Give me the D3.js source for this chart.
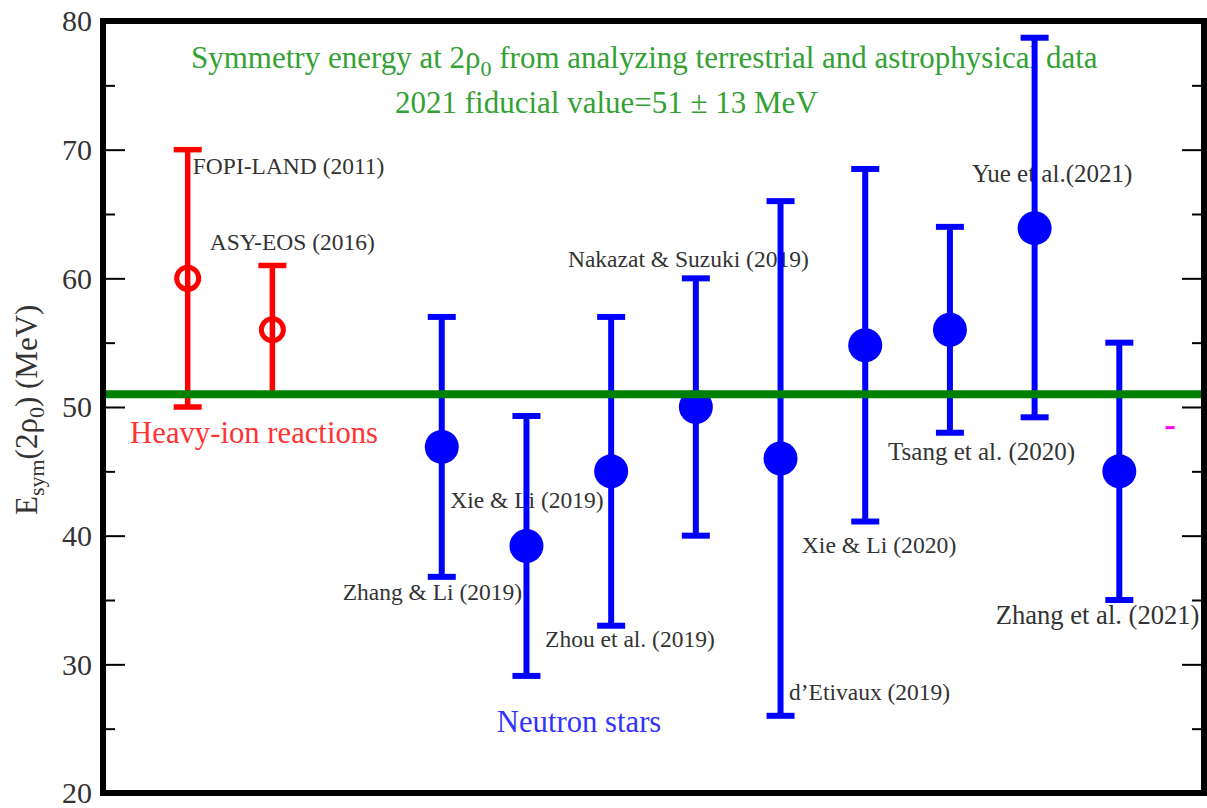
<!DOCTYPE html>
<html>
<head>
<meta charset="utf-8">
<script src="https://cdn.jsdelivr.net/npm/d3@7"></script>
<style>
  body { margin: 0; background: #fff; }
  svg text { font-family: "Liberation Serif", "Times New Roman", serif; }
</style>
</head>
<body>
<svg id="chart" width="1207" height="808"></svg>
<script>
// data
const names = ["FOPI-LAND (2011)", "ASY-EOS (2016)", "Zhang & Li (2019)", "Xie & Li (2019)",
  "Zhou et al. (2019)", "Nakazat & Suzuki (2019)", "d\u2019Etivaux (2019)", "Xie & Li (2020)",
  "Tsang et al. (2020)", "Yue et al.(2021)", "Zhang et al. (2021)"];
const slots = [1, 2, 4, 5, 6, 7, 8, 9, 10, 11, 12];
const esym = [60, 56, 46.9, 39.2, 45, 50, 46, 54.8, 56, 63.9, 45];
const errLow = [50, 51, 36.8, 29.1, 33, 40, 26, 41.1, 48, 49.2, 35];
const errHigh = [70, 61, 57, 49.3, 57, 60, 66, 68.5, 64, 78.7, 55];
const source = ["hic", "hic", "ns", "ns", "ns", "ns", "ns", "ns", "ns", "ns", "ns"];
const fiducial = 51;
const extraMark = [12.6, 48.4]; // small magenta dash
const yTicks = [20, 30, 40, 50, 60, 70, 80];
const yMinor = [25, 35, 45, 55, 65, 75];

// where each name label sits (slot, value of baseline) and its size
const labelAt = [[1.06, 68.1], [1.26, 62.2], [2.83, 35.0], [4.10, 42.15], [5.22, 31.35], [5.49, 60.9],
  [8.10, 27.2], [8.25, 38.65], [9.27, 45.9], [10.26, 67.5], [10.54, 33.1]];
const labelSize = [23.5, 23.5, 23.5, 23.5, 23.5, 23.5, 23.5, 23.7, 25, 25, 26.6];

const svg = d3.select('#chart');
const frameL = 103, frameR = 1204, frameT = 21, frameB = 793;

const x = d3.scaleLinear().domain([0, 13]).range([frameL, frameR]);
const y = d3.scaleLinear().domain([20, 80]).range([frameB, frameT]);

const color = { hic: '#ff0000', ns: '#0000ff' };

// text first: the error bars are drawn over it
const title = svg.append('g').attr('fill', '#33a133').style('font-size', '31px');
const t1 = title.append('text').attr('x', 191).attr('y', 68);
t1.append('tspan').text('Symmetry energy at 2\u03c1');
t1.append('tspan').attr('dy', 8).style('font-size', '22px').text('0');
t1.append('tspan').attr('dy', -8).text(' from analyzing terrestrial and astrophysical data');
title.append('text').attr('x', 395).attr('y', 113).text('2021 fiducial value=51 \u00b1 13 MeV');

svg.append('g').selectAll('text')
  .data(names)
  .enter().append('text')
  .attr('x', (d, i) => x(labelAt[i][0]))
  .attr('y', (d, i) => y(labelAt[i][1]))
  .attr('fill', '#333')
  .style('font-size', (d, i) => labelSize[i] + 'px')
  .text(d => d);

svg.append('text').attr('x', x(0.32)).attr('y', y(47.2))
  .attr('fill', '#ff3333').style('font-size', '30.7px').text('Heavy-ion reactions');
svg.append('text').attr('x', x(4.65)).attr('y', y(24.75))
  .attr('fill', '#3333ff').style('font-size', '30.7px').text('Neutron stars');

// error bars
const bars = svg.append('g');
slots.forEach((s, i) => {
  const c = color[source[i]];
  const w = source[i] === 'hic' ? 5.5 : 6;
  const g = bars.append('g').attr('stroke', c).attr('stroke-width', w);
  g.append('line').attr('x1', x(s)).attr('x2', x(s)).attr('y1', y(errLow[i])).attr('y2', y(errHigh[i]));
  [errLow[i], errHigh[i]].forEach(v => {
    g.append('line').attr('x1', x(s) - 14).attr('x2', x(s) + 14).attr('y1', y(v)).attr('y2', y(v));
  });
  if (source[i] === 'hic') {
    bars.append('circle').attr('cx', x(s)).attr('cy', y(esym[i])).attr('r', 11)
      .attr('fill', 'none').attr('stroke', c).attr('stroke-width', 5);
  } else {
    bars.append('circle').attr('cx', x(s)).attr('cy', y(esym[i])).attr('r', 17).attr('fill', c);
  }
});

svg.append('line')
  .attr('x1', x(extraMark[0]) - 4.5).attr('x2', x(extraMark[0]) + 4.5)
  .attr('y1', y(extraMark[1])).attr('y2', y(extraMark[1]))
  .attr('stroke', '#ff00ff').attr('stroke-width', 3);

// fiducial line
svg.append('line')
  .attr('x1', frameL).attr('x2', frameR)
  .attr('y1', y(fiducial)).attr('y2', y(fiducial))
  .attr('stroke', '#008000').attr('stroke-width', 8);

// ticks, both sides pointing inward
const axL = svg.append('g').attr('transform', `translate(${frameL},0)`)
  .call(d3.axisRight(y).tickValues(yTicks).tickSize(22).tickFormat(''));
const axLm = svg.append('g').attr('transform', `translate(${frameL},0)`)
  .call(d3.axisRight(y).tickValues(yMinor).tickSize(12).tickFormat(''));
const axR = svg.append('g').attr('transform', `translate(${frameR},0)`)
  .call(d3.axisLeft(y).tickValues(yTicks).tickSize(22).tickFormat(''));
const axRm = svg.append('g').attr('transform', `translate(${frameR},0)`)
  .call(d3.axisLeft(y).tickValues(yMinor).tickSize(12).tickFormat(''));
[axL, axLm, axR, axRm].forEach(a => {
  a.select('.domain').remove();
  a.selectAll('line').attr('stroke', '#000').attr('stroke-width', 2);
});

svg.append('g').selectAll('text')
  .data(yTicks)
  .enter().append('text')
  .attr('x', 92)
  .attr('y', d => y(d))
  .attr('dy', '0.34em')
  .attr('text-anchor', 'end')
  .attr('fill', '#333')
  .style('font-size', '30px')
  .text(d => d);

// frame
svg.append('rect')
  .attr('x', frameL).attr('y', frameT)
  .attr('width', frameR - frameL).attr('height', frameB - frameT)
  .attr('fill', 'none').attr('stroke', '#000').attr('stroke-width', 6);

// y axis title
const yl = svg.append('text')
  .attr('transform', `translate(37,${y(50) + 108}) rotate(-90)`)
  .attr('fill', '#333')
  .style('font-size', '31px');
yl.append('tspan').text('E');
yl.append('tspan').attr('dy', 7).style('font-size', '22px').text('sym');
yl.append('tspan').attr('dy', -7).text('(2\u03c1');
yl.append('tspan').attr('dy', 7).style('font-size', '22px').text('0');
yl.append('tspan').attr('dy', -7).text(') (MeV)');
</script>
</body>
</html>
